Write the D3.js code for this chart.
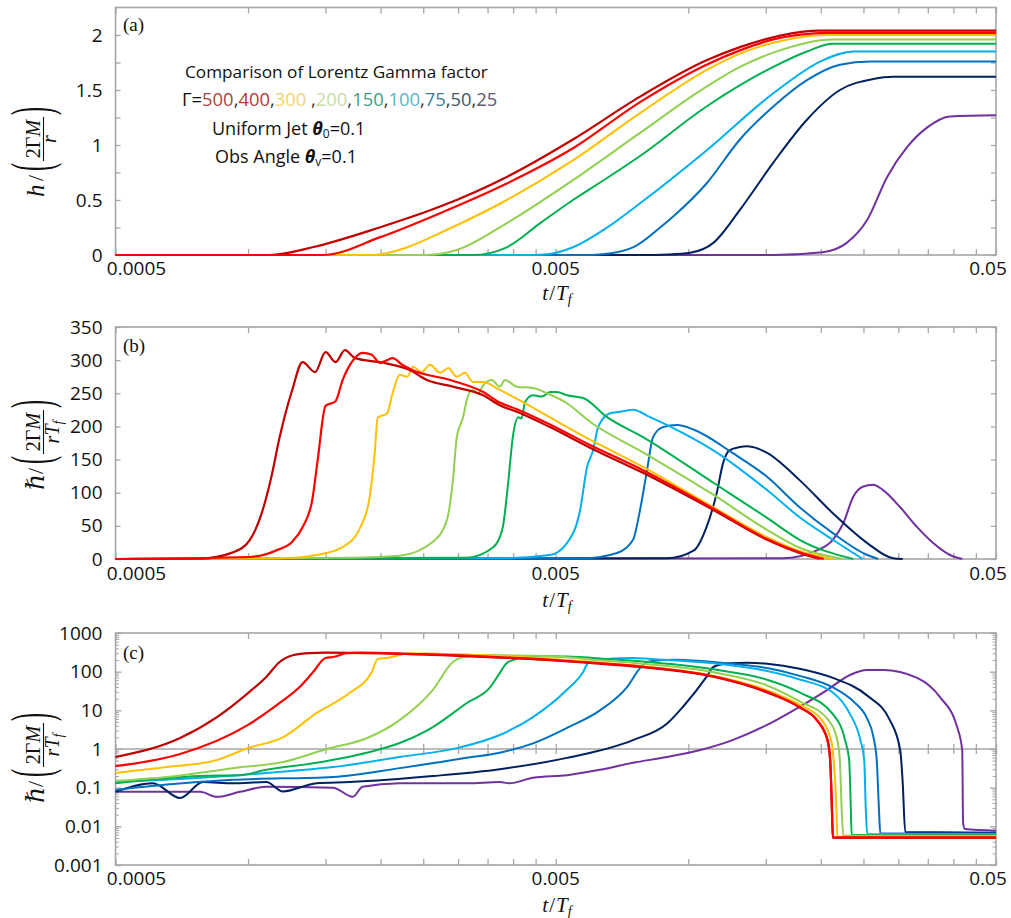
<!DOCTYPE html>
<html><head><meta charset="utf-8">
<script src="https://cdn.jsdelivr.net/npm/d3@7"></script>
<style>body{margin:0;background:#fff}</style>
</head><body>
<svg id="chart" width="1011" height="918"></svg>
<script>
// ---------------- data ----------------
const gammaLabels = ["500","400","300","200","150","100","75","50","25"];
const seriesColors = ["#C00000","#FF0000","#FFC000","#92D050","#00B050","#00B0F0","#0070C0","#002060","#7030A0"];
const legendColors = ["#a8443f","#b03a3a","#f0d472","#c6dda4","#3f9e82","#55b6d0","#3d7f9d","#3d5868","#5c5670"];
const xTickValues = [0.0005,0.001,0.0015,0.002,0.0025,0.003,0.0035,0.004,0.0045,0.005,0.01,0.015,0.02,0.025,0.03,0.035,0.04,0.045,0.05];
const xLabelValues = [0.0005,0.005,0.05];
const xLabelText = ["0.0005","0.005","0.05"];
const aYTickValues = [0,0.25,0.5,0.75,1,1.25,1.5,1.75,2];
const aYLabelValues = [0,0.5,1,1.5,2];
const bYTickValues = [0,50,100,150,200,250,300,350];
const cYLabelValues = [0.001,0.01,0.1,1,10,100,1000];

// panel (a): h/(2ΓM/r)
const A500 = [[0.0005,0],[0.00112,0],[0.0014,0.07],[0.00199,0.25],[0.00273,0.44],[0.00387,0.71],[0.00547,1.05],[0.00777,1.44],[0.011,1.77],[0.0131,1.89],[0.0156,1.98],[0.0196,2.04],[0.05,2.04]];
const A400 = [[0.0005,0],[0.00148,0],[0.00199,0.16],[0.00273,0.38],[0.00387,0.65],[0.00547,0.97],[0.00777,1.39],[0.011,1.73],[0.0131,1.86],[0.0156,1.96],[0.0207,2.02],[0.05,2.02]];
const A300 = [[0.0005,0],[0.00192,0],[0.0023,0.07],[0.00273,0.2],[0.00387,0.5],[0.00547,0.86],[0.00777,1.29],[0.011,1.68],[0.0131,1.83],[0.0156,1.93],[0.0207,2.0],[0.05,2.0]];
const A200 = [[0.0005,0],[0.00255,0],[0.00298,0.045],[0.00387,0.29],[0.00547,0.68],[0.00777,1.11],[0.011,1.53],[0.0131,1.71],[0.0156,1.84],[0.0213,1.96],[0.05,1.96]];
const A150 = [[0.0005,0],[0.00324,0],[0.00387,0.07],[0.00461,0.29],[0.00547,0.5],[0.00654,0.7],[0.00777,0.9],[0.011,1.35],[0.0156,1.71],[0.0186,1.85],[0.0213,1.92],[0.05,1.92]];
const A100 = [[0.0005,0],[0.0044,0],[0.00485,0.01],[0.00547,0.07],[0.00654,0.25],[0.00777,0.47],[0.011,0.95],[0.0156,1.47],[0.0202,1.77],[0.0237,1.85],[0.05,1.85]];
const A75 = [[0.0005,0],[0.0058,0],[0.0063,0.005],[0.00749,0.07],[0.00863,0.25],[0.00924,0.35],[0.011,0.65],[0.0131,1.05],[0.0156,1.35],[0.0186,1.59],[0.0221,1.73],[0.0259,1.76],[0.05,1.76]];
const A50 = [[0.0005,0],[0.0078,0],[0.009,0.005],[0.0101,0.02],[0.0114,0.11],[0.0131,0.41],[0.0156,0.84],[0.0186,1.23],[0.0221,1.5],[0.0263,1.6],[0.0292,1.62],[0.05,1.62]];
const A25 = [[0.0005,0],[0.0156,0],[0.0202,0.025],[0.0229,0.11],[0.0255,0.32],[0.0283,0.71],[0.0314,0.98],[0.0349,1.16],[0.0393,1.26],[0.05,1.27]];

// panel (b): hdot/(2ΓM/rTf)
const B500 = [[0.0005,0],[0.000778,0.5],[0.000924,10],[0.00101,29],[0.00108,74],[0.00113,124],[0.00118,184],[0.00126,255],[0.00133,297],[0.00142,282],[0.0015,312],[0.00158,297],[0.00166,315],[0.00175,303],[0.00203,296],[0.00233,285],[0.00255,270],[0.00292,260],[0.00342,247],[0.00373,232],[0.00408,222],[0.00485,199],[0.00598,168],[0.00789,130],[0.0114,74],[0.0151,29],[0.0179,9],[0.0199,0]];
const B400 = [[0.0005,0],[0.00101,3],[0.00116,13],[0.00126,26],[0.00133,48],[0.0014,90],[0.00144,150],[0.0015,231],[0.00158,238],[0.00164,270],[0.00172,297],[0.00182,311],[0.00191,308],[0.00199,296],[0.00207,300],[0.00213,303],[0.00224,293],[0.00236,285],[0.00288,270],[0.00342,252],[0.00373,236],[0.00408,226],[0.00485,203],[0.00598,172],[0.00789,134],[0.0114,76],[0.0151,30],[0.0179,10],[0.0203,0]];
const B300 = [[0.0005,0],[0.00118,1],[0.00143,6],[0.00164,18],[0.0018,48],[0.00189,94],[0.00194,160],[0.00197,213],[0.00207,220],[0.00213,250],[0.00221,278],[0.0023,275],[0.00237,290],[0.00248,282],[0.00259,293],[0.00273,281],[0.00285,288],[0.00298,275],[0.00311,281],[0.00324,267],[0.00342,267],[0.00373,255],[0.00598,180],[0.00789,139],[0.0114,78],[0.0151,33],[0.0179,12],[0.0213,0]];
const B200 = [[0.0005,0],[0.0017,2],[0.00221,5],[0.00263,26],[0.00283,59],[0.00292,119],[0.00298,184],[0.00308,214],[0.00314,240],[0.00323,255],[0.00333,250],[0.00342,262],[0.00358,270],[0.00373,260],[0.00383,270],[0.00408,260],[0.00444,258],[0.00478,250],[0.0053,235],[0.00598,207],[0.00789,161],[0.0114,97],[0.0151,44],[0.0179,17],[0.0225,0]];
const B150 = [[0.0005,0],[0.00314,2],[0.00361,18],[0.00379,48],[0.00389,109],[0.004,187],[0.00411,214],[0.00418,212],[0.00426,237],[0.00444,247],[0.00465,245],[0.00485,252],[0.00503,252],[0.0053,247],[0.00577,243],[0.00654,214],[0.00789,184],[0.0114,115],[0.0151,62],[0.0179,29],[0.0237,0]];
const B100 = [[0.0005,0],[0.00373,1],[0.00485,6],[0.0053,24],[0.00568,74],[0.00589,139],[0.00608,164],[0.00624,199],[0.00664,220],[0.00699,222],[0.00749,225],[0.00819,214],[0.00973,190],[0.0114,164],[0.0151,104],[0.0179,63],[0.0213,29],[0.0249,0]];
const B75 = [[0.0005,0],[0.00577,1],[0.00689,9],[0.00749,29],[0.00777,74],[0.00806,134],[0.00832,184],[0.00876,199],[0.00943,202],[0.0103,195],[0.0126,160],[0.0151,124],[0.0179,78],[0.0213,39],[0.0255,6],[0.027,0]];
const B50 = [[0.0005,0],[0.00894,1],[0.0103,13],[0.011,48],[0.0116,99],[0.012,145],[0.0124,164],[0.0131,169],[0.0136,170],[0.014,169],[0.0151,160],[0.0179,119],[0.0213,69],[0.0255,24],[0.0292,1],[0.0307,0]];
const B25 = [[0.0005,0],[0.0164,1],[0.0196,13],[0.0213,29],[0.0225,54],[0.0237,94],[0.0249,109],[0.0263,112],[0.0277,104],[0.0303,78],[0.0331,48],[0.036,24],[0.0393,6],[0.0419,0]];

// panel (c): same quantity, log scale
const C500 = [[0.0005,0.62],[0.000701,1.92],[0.00085,6.7],[0.001,28],[0.0011,73],[0.00118,178],[0.00127,269],[0.00138,302],[0.0015,310],[0.00203,296],[0.00292,260],[0.00373,232],[0.00485,199],[0.00598,168],[0.00789,130],[0.0114,74],[0.0151,29],[0.0179,12],[0.0196,5.5],[0.0207,1.7],[0.021,0.52],[0.0212,0.026],[0.0213,0.0051],[0.05,0.0051]];
const C400 = [[0.0005,0.36],[0.000701,0.74],[0.001,4.2],[0.00118,15.5],[0.00131,40],[0.0014,92],[0.0015,225],[0.00156,240],[0.00168,302],[0.00182,311],[0.00236,285],[0.00288,270],[0.00373,236],[0.00485,203],[0.00598,172],[0.00789,134],[0.0114,76],[0.0151,30],[0.0179,12],[0.0196,5.6],[0.0207,1.8],[0.021,0.55],[0.0212,0.03],[0.0213,0.0051],[0.05,0.0051]];
const C300 = [[0.0005,0.24],[0.000654,0.34],[0.00085,0.52],[0.001,1.06],[0.0012,2.0],[0.00143,8.5],[0.0017,28],[0.00191,98],[0.00197,214],[0.00208,230],[0.00221,270],[0.00233,300],[0.00259,293],[0.00342,267],[0.00373,255],[0.00598,180],[0.00789,139],[0.0114,78],[0.0151,33],[0.0179,14],[0.02,6],[0.0211,1.7],[0.0214,0.5],[0.0217,0.03],[0.0218,0.0054],[0.05,0.0054]];
const C200 = [[0.0005,0.15],[0.000654,0.19],[0.000924,0.32],[0.0012,0.46],[0.00151,1.0],[0.00186,1.9],[0.00221,5.6],[0.00263,34],[0.00292,178],[0.00303,225],[0.00324,258],[0.00358,270],[0.00408,260],[0.00444,258],[0.0053,235],[0.00598,207],[0.00789,161],[0.0114,97],[0.0151,44],[0.0179,17],[0.0207,6],[0.0218,1.7],[0.0221,0.5],[0.0223,0.03],[0.0225,0.0057],[0.05,0.0057]];
const C150 = [[0.0005,0.13],[0.000778,0.2],[0.000959,0.21],[0.0011,0.29],[0.00143,0.44],[0.00186,0.8],[0.00221,1.43],[0.00263,3.7],[0.00314,15.5],[0.00355,40],[0.00373,92],[0.00387,167],[0.004,200],[0.00421,240],[0.00485,252],[0.0053,247],[0.00654,214],[0.00789,184],[0.0114,115],[0.0151,62],[0.0179,29],[0.0213,8],[0.0227,1.7],[0.0232,0.5],[0.0234,0.03],[0.0235,0.006],[0.05,0.006]];
const C100 = [[0.0005,0.14],[0.000778,0.18],[0.0011,0.24],[0.00156,0.34],[0.00221,0.62],[0.00303,1.1],[0.00373,2.3],[0.00444,6.7],[0.0053,34],[0.00577,98],[0.00592,167],[0.00624,199],[0.00699,222],[0.00749,225],[0.00819,214],[0.00973,190],[0.0114,164],[0.0151,104],[0.0179,63],[0.0213,29],[0.0233,8],[0.0246,1.7],[0.0251,0.5],[0.0253,0.03],[0.0255,0.0062],[0.05,0.0062]];
const C75 = [[0.0005,0.087],[0.000654,0.12],[0.000924,0.16],[0.00156,0.19],[0.00221,0.32],[0.00314,0.59],[0.00373,0.8],[0.00444,1.4],[0.0053,3.5],[0.0063,10],[0.00726,40],[0.00777,123],[0.00806,178],[0.00876,199],[0.00943,202],[0.0103,195],[0.0126,160],[0.0151,124],[0.0179,78],[0.0213,39],[0.0237,17],[0.0255,6],[0.0263,2.2],[0.0268,0.5],[0.0271,0.03],[0.0273,0.0065],[0.05,0.0065]];
const C50 = [[0.0005,0.078],[0.000608,0.13],[0.000701,0.054],[0.00079,0.14],[0.000924,0.13],[0.0011,0.14],[0.0012,0.08],[0.00143,0.13],[0.0017,0.14],[0.00263,0.2],[0.00373,0.3],[0.0053,0.59],[0.00749,1.7],[0.00894,4.5],[0.00973,12.4],[0.011,73],[0.0114,132],[0.0124,164],[0.0136,170],[0.0151,160],[0.0179,119],[0.0213,69],[0.0255,24],[0.0287,5.6],[0.0303,0.93],[0.0307,0.13],[0.0311,0.0071],[0.05,0.0068]];
const C25 = [[0.0005,0.078],[0.000778,0.078],[0.00085,0.058],[0.000959,0.078],[0.0011,0.105],[0.00156,0.1],[0.00173,0.058],[0.00182,0.105],[0.00221,0.13],[0.00314,0.13],[0.00373,0.14],[0.00392,0.13],[0.00444,0.18],[0.0053,0.21],[0.0063,0.29],[0.00749,0.44],[0.00894,0.62],[0.0106,0.93],[0.0126,1.7],[0.0151,4.2],[0.0179,12.3],[0.0207,34],[0.0233,82],[0.0255,110],[0.0277,110],[0.0331,69],[0.0373,22],[0.0408,3.7],[0.0419,0.93],[0.0421,0.012],[0.0425,0.0085],[0.05,0.0077]];

const panelASeries = [A500,A400,A300,A200,A150,A100,A75,A50,A25];
const panelBSeries = [B500,B400,B300,B200,B150,B100,B75,B50,B25];
const panelCSeries = [C500,C400,C300,C200,C150,C100,C75,C50,C25];

// ---------------- drawing ----------------
const svg = d3.select("#chart");
const xLeft = 115.5, xRight = 996;
const x = d3.scaleLog().domain([0.0005, 0.05]).range([xLeft, xRight]);
const gridGray = "#a6a6a6";
const labelFont = "'Open Sans', 'Liberation Sans', sans-serif";
const mathFont = "'Liberation Serif', 'DejaVu Serif', serif";

const panels = [
  {key:"a", y: d3.scaleLinear().domain([0,2.25]).range([255,7.5]), series: panelASeries,
   yTicks: aYTickValues, yLabels: aYLabelValues, yFmt: d => String(d), tag:"(a)", tagY:31,
   xLabY:275, xTitleY:300, titleY:197, hChar:"h", denom:"r"},
  {key:"b", y: d3.scaleLinear().domain([0,350]).range([559,327]), series: panelBSeries,
   yTicks: bYTickValues, yLabels: bYTickValues, yFmt: d => String(d), tag:"(b)", tagY:352,
   xLabY:580, xTitleY:607, titleY:490, hChar:"\u210F", denom:"rT"},
  {key:"c", y: d3.scaleLog().domain([0.001,1000]).range([865,633]), series: panelCSeries,
   yTicks: null, yLabels: cYLabelValues, yFmt: d => (d>=1? String(d) : d3.format(".3~f")(d)), tag:"(c)", tagY:659,
   xLabY:885, xTitleY:912, titleY:803, hChar:"\u210F", denom:"rT"}
];

function styleTicks(g){
  g.select(".domain").remove();
  g.selectAll(".tick line").attr("stroke", gridGray).attr("stroke-width", 1.3);
  g.selectAll(".tick text").remove();
}

panels.forEach(p => {
  const y = p.y;
  const top = y.range()[1], bottom = y.range()[0];

  svg.append("rect").attr("x", xLeft).attr("y", top).attr("width", xRight - xLeft).attr("height", bottom - top)
    .attr("fill", "none").attr("stroke", gridGray).attr("stroke-width", 1.6);

  svg.append("g").attr("transform", `translate(0,${top})`)
    .call(d3.axisTop(x).tickValues(xTickValues).tickSize(-6)).call(styleTicks);
  svg.append("g").attr("transform", `translate(0,${bottom})`)
    .call(d3.axisBottom(x).tickValues(xTickValues).tickSize(-6)).call(styleTicks);

  if (p.key === "c") {
    const minor = [];
    for (let e = -3; e < 3; e++) for (let m = 2; m <= 9; m++) minor.push(m * Math.pow(10, e));
    [[d3.axisLeft, xLeft], [d3.axisRight, xRight]].forEach(([ax, xp]) => {
      svg.append("g").attr("transform", `translate(${xp},0)`)
        .call(ax(y).tickValues(minor).tickSize(-3.5)).call(styleTicks)
        .selectAll(".tick line").attr("stroke-width", 1);
      svg.append("g").attr("transform", `translate(${xp},0)`)
        .call(ax(y).tickValues(cYLabelValues).tickSize(-6)).call(styleTicks);
    });
    const y1 = y(1);
    svg.append("line").attr("x1", xLeft).attr("x2", xRight).attr("y1", y1).attr("y2", y1)
      .attr("stroke", gridGray).attr("stroke-width", 1.5);
    svg.append("g").attr("transform", `translate(0,${y1})`)
      .call(d3.axisBottom(x).tickValues(xTickValues).tickSize(5)).call(styleTicks);
    svg.append("g").attr("transform", `translate(0,${y1})`)
      .call(d3.axisTop(x).tickValues(xTickValues).tickSize(5)).call(styleTicks);
  } else {
    svg.append("g").attr("transform", `translate(${xLeft},0)`)
      .call(d3.axisLeft(y).tickValues(p.yTicks).tickSize(-5)).call(styleTicks);
    svg.append("g").attr("transform", `translate(${xRight},0)`)
      .call(d3.axisRight(y).tickValues(p.yTicks).tickSize(-5)).call(styleTicks);
  }

  const yl = svg.append("g").attr("transform", `translate(${xLeft},0)`)
    .call(d3.axisLeft(y).tickValues(p.yLabels).tickSize(0).tickPadding(13).tickFormat(p.yFmt));
  yl.select(".domain").remove();
  yl.selectAll(".tick text").attr("font-family", labelFont).attr("font-size", 19).attr("fill", "#111");

  const xl = svg.append("g").attr("transform", `translate(0,${p.xLabY})`);
  const xOffsets = [21, 0, -8];
  xLabelValues.forEach((v, i) => {
    xl.append("text").attr("x", x(v) + xOffsets[i]).attr("y", 0).attr("text-anchor", "middle")
      .attr("font-family", labelFont).attr("font-size", 19).attr("fill", "#111").text(xLabelText[i]);
  });

  const xt = svg.append("text").attr("x", 557).attr("y", p.xTitleY).attr("text-anchor", "middle")
    .attr("font-family", mathFont).attr("font-size", 21).attr("fill", "#111");
  xt.append("tspan").attr("font-style", "italic").text("t");
  xt.append("tspan").attr("dx", 1).text("/");
  xt.append("tspan").attr("dx", 1).attr("font-style", "italic").text("T");
  xt.append("tspan").attr("font-style", "italic").attr("font-size", 14).attr("dy", 4).text("f");

  svg.append("text").attr("x", 123).attr("y", p.tagY).attr("font-family", mathFont)
    .attr("font-size", 19).attr("fill", "#111").text(p.tag);

  const g = svg.append("g").attr("transform", `translate(44,${p.titleY}) rotate(-90)`)
    .attr("font-family", mathFont).attr("fill", "#111");
  g.append("text").attr("x", 0).attr("y", 0).attr("font-style", "italic").attr("font-size", 25).text(p.hChar);
  g.append("text").attr("x", 16).attr("y", -1).attr("font-size", 22).text("/");
  g.append("text").attr("transform", "translate(26,6.3) scale(1,2.38)").attr("font-size", 24).text("(");
  const fracMid = 58;
  const num = g.append("text").attr("x", fracMid).attr("y", -4).attr("text-anchor", "middle").attr("font-size", 20);
  num.append("tspan").text("2\u0393");
  num.append("tspan").attr("font-style", "italic").text("M");
  g.append("line").attr("x1", fracMid - 22).attr("x2", fracMid + 22).attr("y1", -0.5).attr("y2", -0.5)
    .attr("stroke", "#111").attr("stroke-width", 1.1);
  const den = g.append("text").attr("x", fracMid).attr("y", p.denom === "r" ? 12 : 15).attr("text-anchor", "middle").attr("font-size", 20);
  den.append("tspan").attr("font-style", "italic").text(p.denom);
  if (p.denom !== "r") den.append("tspan").attr("font-style", "italic").attr("font-size", 14).attr("dy", 4).text("f");
  g.append("text").attr("transform", "translate(82,6.3) scale(1,2.38)").attr("font-size", 24).text(")");

  const line = d3.line().x(d => x(d[0])).y(d => y(d[1])).curve(d3.curveMonotoneX);
  const order = [8,7,6,5,4,3,2,0,1];
  order.forEach(i => {
    svg.append("path").datum(p.series[i]).attr("d", line)
      .attr("fill", "none").attr("stroke", seriesColors[i])
      .attr("stroke-width", i <= 1 ? 2.2 : 2).attr("stroke-linejoin", "round");
  });
});

// annotation in panel (a)
const ann = svg.append("g").attr("font-family", labelFont).attr("fill", "#111");
ann.append("text").attr("x", 185).attr("y", 78).attr("font-size", 17.2).text("Comparison of Lorentz Gamma factor");
const l2 = ann.append("text").attr("x", 182).attr("y", 106).attr("font-size", 18.4);
l2.append("tspan").text("\u0393=");
gammaLabels.forEach((gl, i) => {
  l2.append("tspan").attr("fill", legendColors[i]).text(gl);
  if (i < gammaLabels.length - 1) l2.append("tspan").attr("fill", "#333").text(i === 2 ? " ," : ",");
});
const l3 = ann.append("text").attr("x", 212).attr("y", 135).attr("font-size", 18);
l3.append("tspan").text("Uniform Jet ");
l3.append("tspan").attr("font-weight", "bold").attr("font-style", "italic").text("\u03B8");
l3.append("tspan").attr("font-size", 12).attr("dy", 3).text("0");
l3.append("tspan").attr("dy", -3).text("=0.1");
const l4 = ann.append("text").attr("x", 215).attr("y", 163).attr("font-size", 18);
l4.append("tspan").text("Obs Angle ");
l4.append("tspan").attr("font-weight", "bold").attr("font-style", "italic").text("\u03B8");
l4.append("tspan").attr("font-size", 12).attr("dy", 3).text("v");
l4.append("tspan").attr("dy", -3).text("=0.1");
</script>
</body></html>
